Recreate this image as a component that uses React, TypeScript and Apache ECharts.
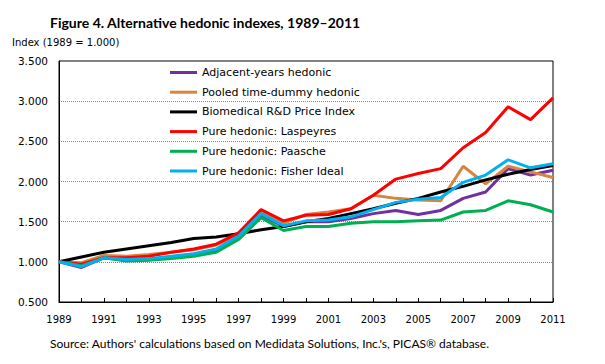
import React, { useEffect, useRef } from "react";
import * as echarts from "echarts";

const years = [
  "1989", "1990", "1991", "1992", "1993", "1994", "1995", "1996", "1997", "1998", "1999",
  "2000", "2001", "2002", "2003", "2004", "2005", "2006", "2007", "2008", "2009", "2010", "2011",
];

const adjacentYears = [1.0, 0.93, 1.05, 1.02, 1.03, 1.06, 1.09, 1.15, 1.31, 1.58, 1.44, 1.5, 1.5, 1.54, 1.6, 1.64, 1.59, 1.64, 1.79, 1.87, 2.16, 2.08, 2.14];
const pooledDummy = [1.0, 0.99, 1.08, 1.07, 1.09, 1.12, 1.15, 1.21, 1.33, 1.62, 1.48, 1.59, 1.62, 1.66, 1.83, 1.79, 1.77, 1.76, 2.19, 1.97, 2.19, 2.12, 2.05];
const biomedical = [1.0, 1.06, 1.12, 1.16, 1.2, 1.24, 1.29, 1.31, 1.35, 1.4, 1.44, 1.5, 1.54, 1.6, 1.66, 1.73, 1.79, 1.87, 1.94, 2.02, 2.09, 2.15, 2.2];
const laspeyres = [1.0, 0.97, 1.05, 1.05, 1.07, 1.12, 1.16, 1.22, 1.36, 1.65, 1.51, 1.58, 1.59, 1.66, 1.83, 2.03, 2.1, 2.16, 2.42, 2.61, 2.93, 2.77, 3.04];
const paasche = [1.0, 0.95, 1.05, 1.01, 1.02, 1.04, 1.07, 1.12, 1.28, 1.55, 1.39, 1.44, 1.44, 1.48, 1.5, 1.5, 1.51, 1.52, 1.62, 1.64, 1.76, 1.71, 1.62];
const fisher = [1.0, 0.94, 1.05, 1.03, 1.04, 1.07, 1.1, 1.16, 1.32, 1.6, 1.45, 1.51, 1.52, 1.56, 1.65, 1.74, 1.78, 1.8, 1.99, 2.08, 2.27, 2.17, 2.22];

const seriesNames = [
  "Adjacent-years hedonic",
  "Pooled time-dummy hedonic",
  "Biomedical R&D Price Index",
  "Pure hedonic: Laspeyres",
  "Pure hedonic: Paasche",
  "Pure hedonic: Fisher Ideal",
];
const seriesData = [adjacentYears, pooledDummy, biomedical, laspeyres, paasche, fisher];
const seriesColors = ["#7030A0", "#D9843E", "#000000", "#FF0000", "#00B050", "#00B0F0"];

const titleText = "Figure 4. Alternative hedonic indexes, 1989\u20132011";
const yAxisTitle = "Index (1989 = 1.000)";
const sourceText = "Source: Authors' calculations based on Medidata Solutions, Inc.'s, PICAS\u00AE database.";

export default function App() {
  const ref = useRef<HTMLDivElement>(null);
  useEffect(() => {
    if (!ref.current) return;
    const chart = echarts.init(ref.current, null, { renderer: "svg" });
    chart.setOption({
      animation: false,
      backgroundColor: "#ffffff",
      title: {
        text: titleText,
        left: 50,
        top: 15,
        padding: 0,
        textStyle: { fontFamily: "Lato", fontWeight: "bold", fontSize: 14, color: "#000" },
      },
      graphic: [
        {
          type: "text",
          left: 12,
          top: 37,
          style: { text: yAxisTitle, fontFamily: "DejaVu Sans", fontSize: 10, fill: "#000" },
        },
        {
          type: "text",
          left: 50,
          top: 337,
          style: { text: sourceText, fontFamily: "Lato", fontSize: 12, fill: "#000" },
        },
      ],
      legend: {
        orient: "vertical",
        left: 170,
        top: 67,
        padding: 0,
        itemWidth: 27,
        itemHeight: 3,
        itemGap: 8.7,
        icon: "rect",
        data: seriesNames,
        textStyle: { fontFamily: "DejaVu Sans", fontSize: 11, color: "#000" },
      },
      grid: {
        left: 59,
        top: 61,
        width: 494,
        height: 241,
        show: true,
        borderColor: "#000",
        borderWidth: 1,
        backgroundColor: "transparent",
      },
      xAxis: {
        type: "category",
        data: years,
        boundaryGap: false,
        axisLine: { lineStyle: { color: "#000", width: 1 } },
        axisTick: { inside: true, length: 4, interval: 0, lineStyle: { color: "#000" } },
        axisLabel: {
          interval: 1,
          margin: 12,
          fontFamily: "DejaVu Sans",
          fontSize: 10,
          color: "#000",
        },
        splitLine: { show: false },
      },
      yAxis: {
        type: "value",
        min: 0.5,
        max: 3.5,
        interval: 0.5,
        axisLine: { show: true, lineStyle: { color: "#000", width: 1 } },
        axisTick: { show: false },
        axisLabel: {
          margin: 11,
          fontFamily: "DejaVu Sans",
          fontSize: 10.5,
          color: "#000",
          formatter: (v: number) => v.toFixed(3),
        },
        splitLine: { show: true, lineStyle: { color: "#888", type: "dotted", width: 1 } },
      },
      series: seriesNames.map((name, i) => ({
        name,
        type: "line",
        data: seriesData[i],
        symbol: "none",
        color: seriesColors[i],
        lineStyle: { width: 3, color: seriesColors[i] },
        z: 2 + i,
      })),
    });
    return () => chart.dispose();
  }, []);
  return (
    <div
      ref={ref}
      style={{ position: "fixed", left: 0, top: 0, width: 605, height: 364, background: "#fff" }}
    />
  );
}
